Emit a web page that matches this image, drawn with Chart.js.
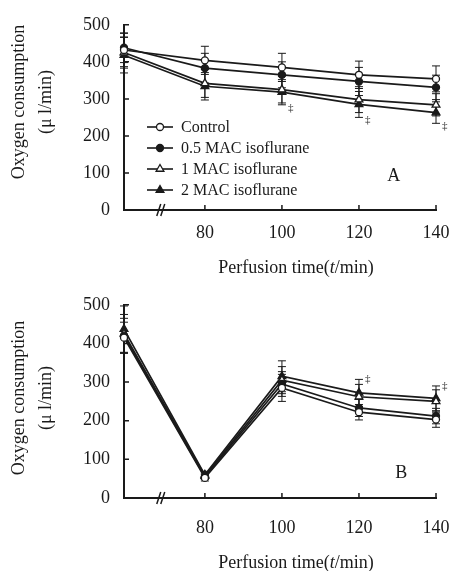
<!DOCTYPE html>
<html>
<head>
<meta charset="utf-8">
<script src="https://cdn.jsdelivr.net/npm/chart.js@4.4.0/dist/chart.umd.min.js"></script>
<style>
  body { margin: 0; background: #fff; }
  #wrap { position: relative; width: 449px; height: 571px; }
  canvas { position: absolute; left: 0; }
</style>
</head>
<body>
<div id="wrap">
  <canvas id="chartA" width="449" height="280" style="top:0px"></canvas>
  <canvas id="chartB" width="449" height="291" style="top:280px"></canvas>
</div>
<script>
// perfusion time (min); first point sits before the axis break
const times = [59, 80, 100, 120, 140];
const xTicks = [80, 100, 120, 140];
const yTicks = [0, 100, 200, 300, 400, 500];
const seriesNames = ["Control", "0.5 MAC isoflurane", "1 MAC isoflurane", "2 MAC isoflurane"];

// panel A: means and SD
const controlA = [432, 404, 385, 365, 354];
const mac05A = [438, 383, 365, 347, 331];
const mac1A = [425, 342, 325, 298, 284];
const mac2A = [418, 334, 318, 285, 263];
const controlSdA = [45, 38, 38, 37, 35];
const mac05SdA = [40, 40, 35, 38, 33];
const mac1SdA = [42, 38, 36, 35, 30];
const mac2SdA = [48, 37, 34, 35, 29];
const signifA = ["", "", "‡", "‡", "‡"]; // on 2 MAC, below

// panel B: means and SD
const controlB = [415, 52, 285, 222, 203];
const mac05B = [420, 55, 295, 233, 212];
const mac1B = [425, 57, 305, 262, 250];
const mac2B = [437, 60, 315, 272, 258];
const controlSdB = [40, 8, 35, 20, 20];
const mac05SdB = [45, 7, 32, 22, 20];
const mac1SdB = [50, 8, 35, 32, 30];
const mac2SdB = [60, 9, 40, 35, 32];
const signifB = ["", "", "", "‡", "‡"]; // on 2 MAC, above

const yTitle = ["Oxygen consumption", "(μ l/min)"];
const ink = "#1a1a1a";
const serif = "'Liberation Serif', 'DejaVu Serif', serif";
const markerStyles = ["circle", "circle", "triangle", "triangle"];
const markerFills = ["#fff", ink, "#fff", ink];
const markerSizes = [3.5, 3.5, 4.5, 4.5];

const overlay = {
  id: "overlay",
  beforeDatasetsDraw(chart) {
    const { ctx, scales: { x, y } } = chart;
    ctx.save();
    ctx.strokeStyle = ink;
    ctx.lineWidth = 1;
    chart.data.datasets.forEach((ds) => {
      ds.data.forEach((p, i) => {
        const px = x.getPixelForValue(p.x);
        const top = y.getPixelForValue(p.y + ds.sd[i]);
        const bot = y.getPixelForValue(p.y - ds.sd[i]);
        ctx.beginPath();
        ctx.moveTo(px, top); ctx.lineTo(px, bot);
        ctx.moveTo(px - 4, top); ctx.lineTo(px + 4, top);
        ctx.moveTo(px - 4, bot); ctx.lineTo(px + 4, bot);
        ctx.stroke();
      });
    });
    ctx.restore();
  },
  afterDraw(chart, args, opts) {
    const { ctx, chartArea: area, scales: { x, y } } = chart;
    ctx.save();
    ctx.strokeStyle = ink;
    ctx.fillStyle = ink;
    ctx.lineWidth = 1.5;

    // inward tick marks
    ctx.beginPath();
    yTicks.slice(1).forEach((v) => {
      const py = y.getPixelForValue(v);
      ctx.moveTo(area.left, py); ctx.lineTo(area.left + 5, py);
    });
    xTicks.forEach((v) => {
      const px = x.getPixelForValue(v);
      ctx.moveTo(px, area.bottom); ctx.lineTo(px, area.bottom - 5);
    });
    ctx.stroke();

    // axis break
    const bx = x.getPixelForValue(68.8);
    ctx.beginPath();
    ctx.moveTo(bx - 5, area.bottom + 6); ctx.lineTo(bx - 1, area.bottom - 6);
    ctx.moveTo(bx - 1, area.bottom + 6); ctx.lineTo(bx + 3, area.bottom - 6);
    ctx.stroke();

    // significance marks on the 2 MAC series
    const last = chart.data.datasets[3];
    ctx.font = "11px " + serif;
    ctx.textAlign = "left";
    ctx.textBaseline = "middle";
    opts.signif.forEach((s, i) => {
      if (!s) return;
      const p = last.data[i];
      const end = opts.signifBelow ? p.y - last.sd[i] : p.y + last.sd[i];
      ctx.fillText(s, x.getPixelForValue(p.x) + 6, y.getPixelForValue(end) + (opts.signifBelow ? 3 : 0));
    });

    // panel letter
    ctx.font = "18px " + serif;
    ctx.textAlign = "center";
    ctx.fillText(opts.letter, x.getPixelForValue(opts.letterAt[0]), y.getPixelForValue(opts.letterAt[1]));

    // y title, two rotated lines
    ctx.save();
    ctx.translate(0, opts.yTitleMid);
    ctx.rotate(-Math.PI / 2);
    yTitle.forEach((t, k) => ctx.fillText(t, 0, 19 + k * 27));
    ctx.restore();

    // x title with italic t
    const parts = [["Perfusion time(", ""], ["t", "italic "], ["/min)", ""]];
    let total = 0;
    parts.forEach((p) => { ctx.font = p[1] + "18px " + serif; total += ctx.measureText(p[0]).width; });
    let tx = 296 - total / 2;
    ctx.textAlign = "left";
    parts.forEach((p) => {
      ctx.font = p[1] + "18px " + serif;
      ctx.fillText(p[0], tx, opts.titleY);
      tx += ctx.measureText(p[0]).width;
    });

    // legend inside the plot
    if (opts.legend) {
      ctx.font = "16px " + serif;
      chart.data.datasets.forEach((ds, k) => {
        const ly = 127 + k * 21;
        ctx.lineWidth = 1.6;
        ctx.beginPath();
        ctx.moveTo(147, ly); ctx.lineTo(173, ly);
        ctx.stroke();
        ctx.fillStyle = markerFills[k];
        ctx.lineWidth = 1.3;
        Chart.helpers.drawPoint(ctx, { pointStyle: markerStyles[k], radius: markerSizes[k], borderWidth: 1.3 }, 160, ly);
        ctx.fillStyle = ink;
        ctx.fillText(ds.label, 181, ly + 1);
      });
    }
    ctx.restore();
  },
};

function makeChart(id, series, o) {
  return new Chart(document.getElementById(id), {
    type: "line",
    data: {
      datasets: series.map((s, k) => ({
        label: seriesNames[k],
        data: s[0].map((v, i) => ({ x: times[i], y: v })),
        sd: s[1],
        borderColor: ink,
        borderWidth: 1.7,
        pointStyle: markerStyles[k],
        pointRadius: markerSizes[k],
        pointBackgroundColor: markerFills[k],
        pointBorderColor: ink,
        pointBorderWidth: 1.3,
        tension: 0,
        clip: false,
      })),
    },
    options: {
      responsive: false,
      animation: false,
      layout: { padding: { top: o.padTop, right: 0, left: 0, bottom: 0 } },
      scales: {
        x: {
          type: "linear",
          min: 59,
          max: 140,
          afterBuildTicks: (scale) => { scale.ticks = xTicks.map((v) => ({ value: v })); },
          afterFit: (scale) => {
            scale.height = o.xHeight;
            // keep the plot's right edge at x=436
            scale.paddingLeft = 0;
            scale.paddingRight = 13;
          },
          grid: { display: false, drawTicks: false },
          border: { color: ink, width: 2 },
          ticks: { color: ink, padding: o.xPad, font: { family: serif, size: 18 } },
        },
        y: {
          min: 0,
          max: 500,
          afterBuildTicks: (scale) => { scale.ticks = yTicks.map((v) => ({ value: v })); },
          afterFit: (scale) => { scale.width = 124; },
          grid: { display: false, drawTicks: false },
          border: { color: ink, width: 2 },
          ticks: { color: ink, padding: 14, font: { family: serif, size: 18 } },
        },
      },
      plugins: {
        legend: { display: false },
        tooltip: { enabled: false },
        overlay: o.overlay,
      },
    },
    plugins: [overlay],
  });
}

makeChart("chartA", [
  [controlA, controlSdA],
  [mac05A, mac05SdA],
  [mac1A, mac1SdA],
  [mac2A, mac2SdA],
], {
  padTop: 18, xHeight: 70, xPad: 12,
  overlay: { letter: "A", letterAt: [129, 91], titleY: 268, yTitleMid: 102, legend: true, signif: signifA, signifBelow: true },
});

makeChart("chartB", [
  [controlB, controlSdB],
  [mac05B, mac05SdB],
  [mac1B, mac1SdB],
  [mac2B, mac2SdB],
], {
  padTop: 23.5, xHeight: 73, xPad: 19,
  overlay: { letter: "B", letterAt: [131, 64], titleY: 283, yTitleMid: 118, legend: false, signif: signifB, signifBelow: false },
});
</script>
</body>
</html>
